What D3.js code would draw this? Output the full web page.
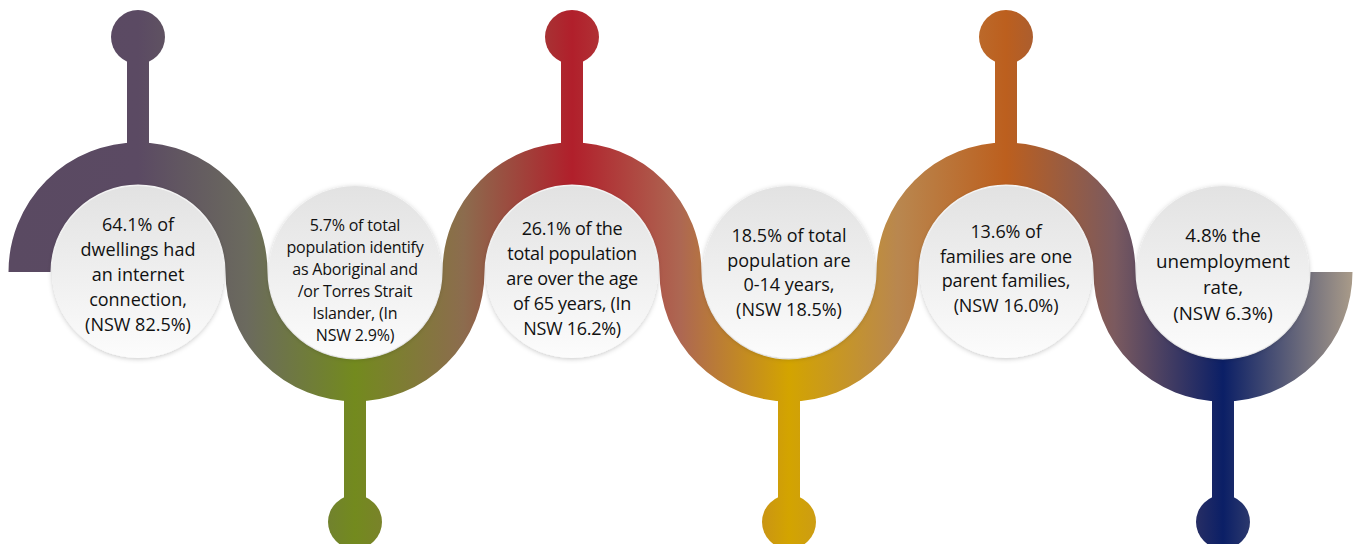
<!DOCTYPE html>
<html>
<head>
<meta charset="utf-8">
<script src="https://cdn.jsdelivr.net/npm/d3@7/dist/d3.min.js"></script>
<style>
  html, body { margin: 0; padding: 0; background: #ffffff; }
  svg { display: block; }
</style>
</head>
<body>
<svg id="chart" width="1362" height="544"></svg>
<script>
// ---- Data ----
const statements = [
  ["64.1% of", "dwellings had", "an internet", "connection,", "(NSW 82.5%)"],
  ["5.7% of total", "population identify", "as Aboriginal and", "/or Torres Strait", "Islander, (In", "NSW 2.9%)"],
  ["26.1% of the", "total population", "are over the age", "of 65 years, (In", "NSW 16.2%)"],
  ["18.5% of total", "population are", "0-14 years,", "(NSW 18.5%)"],
  ["13.6% of", "families are one", "parent families,", "(NSW 16.0%)"],
  ["4.8% the", "unemployment", "rate,", "(NSW 6.3%)"]
];
const stemColors = ["#5b4a63", "#738a1e", "#b11f2b", "#d3a400", "#bc5f1e", "#0b1f66"];
const blendColors = ["#6b6a5e", "#8c6c4e", "#ad6752", "#b9874f", "#7b5a5f"];
const endColors = ["#5a4a62", "#a99b89"];

// ---- Layout / style (not data) ----
const W = 1362, H = 544;
const cy = 272;
const band = 42;
const knobR = 27, stemW = 22;
const topKnobY = 37, bottomKnobY = 522;
const bubbleR = 86;
const fontSizes = [18, 16, 18, 18, 18, 18.8];
const lineHeights = [24.8, 22, 24.8, 24.8, 24.8, 25.8];
const letterSpacing = [0, -0.2, -0.3, 0, -0.1, 0];
const textShiftY = [2, 8, 6, 0, -4, 2];

const svg = d3.select("#chart");
const idx = d3.range(statements.length);
const x = d3.scaleLinear().domain([0, statements.length - 1]).range([138, 1223]);
const r = (x(1) - x(0)) / 2;

const defs = svg.append("defs");

const x0 = x(0) - r - band / 2, x1 = x(statements.length - 1) + r + band / 2;
const grad = defs.append("linearGradient")
  .attr("id", "ribbonGrad")
  .attr("gradientUnits", "userSpaceOnUse")
  .attr("x1", x0).attr("x2", x1)
  .attr("y1", 0).attr("y2", 0);
const stopPos = [];
stopPos.push([x0, endColors[0]]);
idx.forEach(i => {
  stopPos.push([x(i), stemColors[i]]);
  if (i < statements.length - 1) stopPos.push([x(i) + r, blendColors[i]]);
});
stopPos.push([x1, endColors[1]]);
grad.selectAll("stop").data(stopPos).join("stop")
  .attr("offset", d => ((d[0] - x0) / (x1 - x0)))
  .attr("stop-color", d => d[1]);

const bg = defs.append("linearGradient").attr("id", "bubbleGrad")
  .attr("x1", 0).attr("x2", 0).attr("y1", 0).attr("y2", 1);
bg.append("stop").attr("offset", 0).attr("stop-color", "#e2e2e2");
bg.append("stop").attr("offset", 0.55).attr("stop-color", "#f0f0f0");
bg.append("stop").attr("offset", 1).attr("stop-color", "#fcfcfc");
const f = defs.append("filter").attr("id", "shadow")
  .attr("x", "-20%").attr("y", "-20%").attr("width", "140%").attr("height", "140%");
f.append("feDropShadow").attr("dx", 0).attr("dy", 1).attr("stdDeviation", 2.5)
  .attr("flood-color", "#000").attr("flood-opacity", 0.22);

// ribbon centre path: alternating semicircles
let pathStr = `M${x(0) - r},${cy}`;
idx.forEach(i => {
  const up = i % 2 === 0;
  pathStr += `A${r},${r} 0 0 ${up ? 1 : 0} ${x(i) + r},${cy}`;
});

svg.append("g").selectAll("rect").data(idx).join("rect")
  .attr("x", i => x(i) - stemW / 2)
  .attr("y", i => i % 2 === 0 ? topKnobY : cy + r)
  .attr("width", stemW)
  .attr("height", i => i % 2 === 0 ? (cy - r) - topKnobY : bottomKnobY - (cy + r))
  .attr("fill", "url(#ribbonGrad)");

svg.append("g").selectAll("circle").data(idx).join("circle")
  .attr("cx", i => x(i))
  .attr("cy", i => i % 2 === 0 ? topKnobY : bottomKnobY)
  .attr("r", knobR)
  .attr("fill", "url(#ribbonGrad)");

svg.append("path")
  .attr("d", pathStr)
  .attr("fill", "none")
  .attr("stroke", "url(#ribbonGrad)")
  .attr("stroke-width", band)
  .attr("stroke-linecap", "butt");

svg.append("g").selectAll("circle").data(idx).join("circle")
  .attr("cx", i => x(i))
  .attr("cy", cy)
  .attr("r", bubbleR)
  .attr("fill", "url(#bubbleGrad)")
  .attr("filter", "url(#shadow)");

const tg = svg.append("g")
  .attr("font-family", "'Open Sans', 'Noto Sans', sans-serif")
  .attr("fill", "#111111")
  .attr("text-anchor", "middle");
idx.forEach(i => {
  const lines = statements[i];
  const lh = lineHeights[i];
  const startY = cy + textShiftY[i] - (lines.length - 1) * lh / 2;
  const t = tg.append("text")
    .attr("font-size", fontSizes[i])
    .attr("letter-spacing", letterSpacing[i])
    .attr("dominant-baseline", "central");
  t.selectAll("tspan").data(lines).join("tspan")
    .attr("x", x(i))
    .attr("y", (d, k) => startY + k * lh)
    .text(d => d);
});
</script>
</body>
</html>
